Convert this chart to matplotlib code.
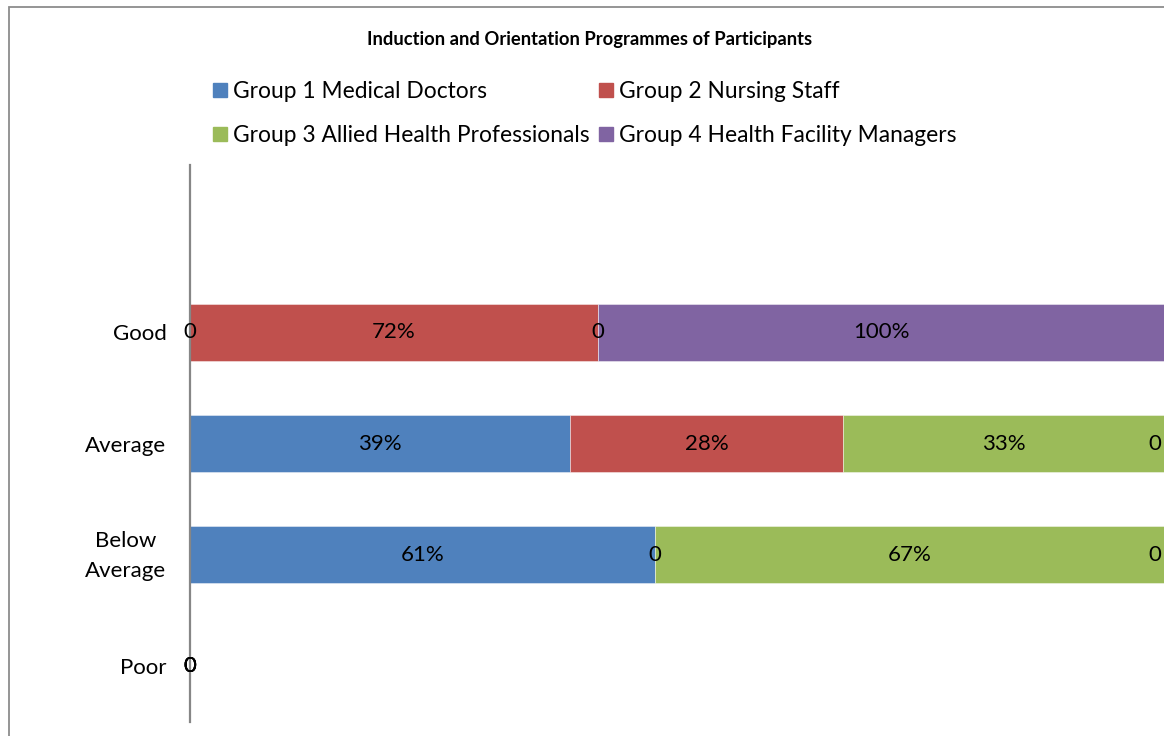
import matplotlib
matplotlib.use("Agg")
import matplotlib.pyplot as plt
import matplotlib.transforms as mtransforms
from matplotlib.patches import Patch, Rectangle
import numpy as np

plt.rcParams['font.family'] = ['Lato', 'DejaVu Sans']

title = "Induction and Orientation Programmes of Participants"
categories = ["Good", "Average", "Below\nAverage", "Poor"]  # top to bottom
series_names = ["Group 1 Medical Doctors", "Group 2 Nursing Staff",
                "Group 3 Allied Health Professionals", "Group 4 Health Facility Managers"]
g1 = [0, 39, 61, 0]
g2 = [72, 28, 0, 0]
g3 = [0, 33, 67, 0]
g4 = [100, 0, 0, 0]
colors = ["#4F81BD", "#C0504D", "#9BBB59", "#8064A2"]

W, H = 1164, 736
fig = plt.figure(figsize=(W / 100, H / 100), dpi=100)

# chart border (cropped at right/bottom)
fig.patches.append(Rectangle((8.5 / W, -0.05), 1.1, 1 - 6.5 / H + 0.05,
                             transform=fig.transFigure, fill=False,
                             edgecolor="#8C8C8C", linewidth=1.3))

ax_l, ax_r, ax_t, ax_b = 190, 1165, 165, 722
ax = fig.add_axes([ax_l / W, 1 - ax_b / H, (ax_r - ax_l) / W, (ax_b - ax_t) / H])

data = np.array([g1, g2, g3, g4], dtype=float)
n = len(categories)
ypos = np.arange(n)[::-1]  # Good at top
totals = data.sum(axis=0)
shares = np.divide(data, totals, out=np.zeros_like(data), where=totals > 0) * 100

lab_fs = 16
left = np.zeros(n)
for i in range(4):
    ax.barh(ypos, shares[i], left=left, height=0.51, color=colors[i],
            edgecolor=(1, 1, 1, 0.5), linewidth=0.6, label=series_names[i])
    for j in range(n):
        v = data[i, j]
        txt = f"{int(v)}%" if v > 0 else "0"
        cx = left[j] + shares[i, j] / 2
        if cx >= 99.5:
            ax.annotate(txt, (100, ypos[j]), xytext=(-3, 0), textcoords="offset points",
                        ha="right", va="center", fontsize=lab_fs, color="black")
        else:
            ax.text(cx, ypos[j], txt, ha="center", va="center", fontsize=lab_fs, color="black")
    left = left + shares[i]

ax.set_xlim(0, 100)
ax.set_ylim(-0.5, 4.5)
ax.set_yticks(ypos)
ax.set_yticklabels(categories, fontsize=lab_fs, multialignment="center", linespacing=1.65)
ax.tick_params(axis="y", length=0, pad=17)
ax.set_xticks([])
for lbl in ax.get_yticklabels():
    if "\n" in lbl.get_text():
        lbl.set_transform(lbl.get_transform() +
                          mtransforms.ScaledTranslation(0, 6 / 100, fig.dpi_scale_trans))
for s in ["top", "right", "bottom"]:
    ax.spines[s].set_visible(False)
ax.spines["left"].set_color("#868686")
ax.spines["left"].set_linewidth(1.6)
ax.patch.set_alpha(0)

fig.text(590 / W, 1 - 39 / H, title, ha="center", va="center",
         fontsize=13.2, fontweight="bold")

handles = [Patch(color=c) for c in colors]
order = [0, 2, 1, 3]
fig.legend([handles[k] for k in order], [series_names[k] for k in order],
           ncol=2, loc="center", bbox_to_anchor=(585 / W, 1 - 113.5 / H),
           frameon=False, fontsize=16.4, handlelength=0.6, handleheight=0.6,
           handletextpad=0.28, columnspacing=0.4, labelspacing=1.02,
           borderpad=0, borderaxespad=0)

fig.savefig("out.png", dpi=100)
